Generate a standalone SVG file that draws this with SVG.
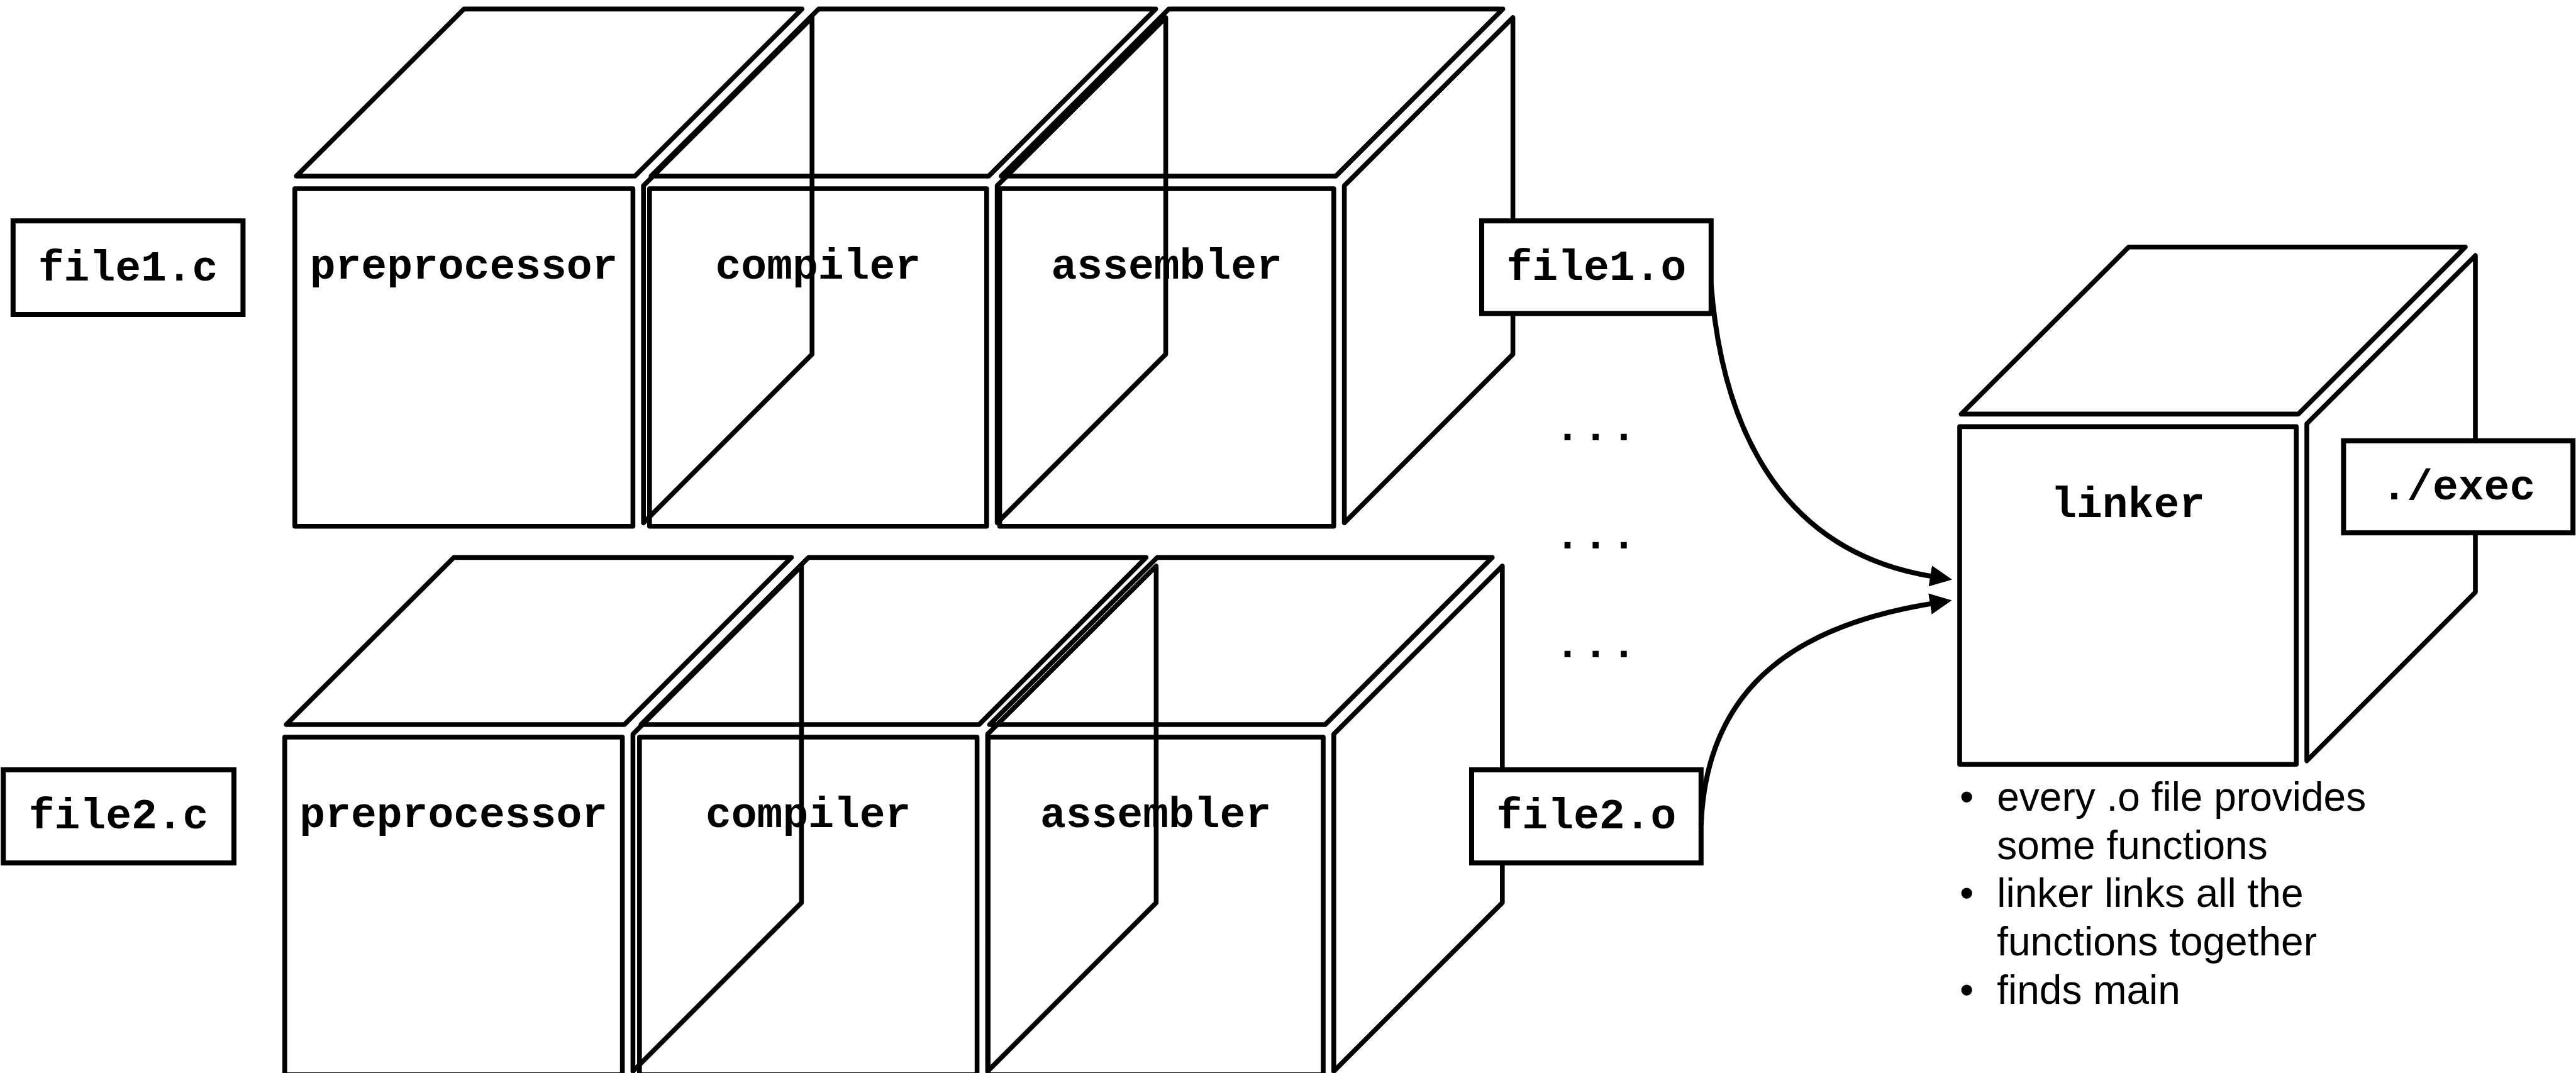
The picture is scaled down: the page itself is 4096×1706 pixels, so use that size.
<svg xmlns="http://www.w3.org/2000/svg" width="4096" height="1706" viewBox="0 0 4096 1706">
  <defs>
    <style>
      .edge { fill: none; stroke: #000; stroke-width: 9.5; stroke-linejoin: round; stroke-linecap: round; }
      .box { fill: #fff; stroke: #000; stroke-width: 10; stroke-linejoin: miter; }
      .link { fill: none; stroke: #000; stroke-width: 10; }
      .code { font-family: "Liberation Mono", "Courier New", monospace; font-weight: bold; font-size: 85px; fill: #000; text-anchor: middle; }
      .dots { font-family: "Liberation Mono", "Courier New", monospace; font-weight: bold; font-size: 85px; letter-spacing: 5px; fill: #000; }
      .note { font-family: "Liberation Sans", Arial, Helvetica, sans-serif; font-size: 80px; fill: #000; }
    </style>
    <marker id="arrow" markerUnits="userSpaceOnUse" viewBox="0 0 44 42" markerWidth="44" markerHeight="42" refX="4" refY="21" orient="auto">
      <path d="M0,0 L44,21 L0,42 Z" fill="#000"/>
    </marker>
  </defs>

  <rect width="4096" height="1706" fill="#fff"/>

  <!-- drawn in 5120-wide units, scaled down to the canvas -->
  <g transform="scale(0.8)">

    <!-- ===== row 1 ===== -->
    <g id="preprocessor-1">
      <path class="edge" d="M589,350 L922,18 L1594,18 L1262,350 Z"/>
      <rect class="edge" x="586" y="375" width="672" height="671"/>
      <path class="edge" d="M1279,369 L1614,35 L1614,704 L1279,1039 Z"/>
    </g>
    <g id="compiler-1">
      <path class="edge" d="M1294,350 L1627,18 L2297,18 L1965,350 Z"/>
      <rect class="edge" x="1291" y="375" width="670" height="671"/>
      <path class="edge" d="M1982,369 L2317,35 L2317,704 L1982,1039 Z"/>
    </g>
    <g id="assembler-1">
      <path class="edge" d="M1990,350 L2323,18 L2987,18 L2655,350 Z"/>
      <rect class="edge" x="1987" y="375" width="664" height="671"/>
      <path class="edge" d="M2672,369 L3007,35 L3007,704 L2672,1039 Z"/>
    </g>

    <!-- ===== row 2 ===== -->
    <g id="preprocessor-2">
      <path class="edge" d="M569,1440 L902,1108 L1573,1108 L1241,1440 Z"/>
      <rect class="edge" x="566" y="1465" width="671" height="671"/>
      <path class="edge" d="M1258,1459 L1593,1125 L1593,1794 L1258,2129 Z"/>
    </g>
    <g id="compiler-2">
      <path class="edge" d="M1274,1440 L1607,1108 L2278,1108 L1946,1440 Z"/>
      <rect class="edge" x="1271" y="1465" width="671" height="671"/>
      <path class="edge" d="M1963,1459 L2298,1125 L2298,1794 L1963,2129 Z"/>
    </g>
    <g id="assembler-2">
      <path class="edge" d="M1967,1440 L2300,1108 L2966,1108 L2634,1440 Z"/>
      <rect class="edge" x="1964" y="1465" width="666" height="671"/>
      <path class="edge" d="M2651,1459 L2986,1125 L2986,1794 L2651,2129 Z"/>
    </g>

    <!-- ===== linker ===== -->
    <g id="linker">
      <path class="edge" d="M3898,823 L4231,491 L4900,491 L4568,823 Z"/>
      <rect class="edge" x="3895" y="848" width="669" height="671"/>
      <path class="edge" d="M4585,842 L4920,508 L4920,1177 L4585,1512 Z"/>
    </g>

    <!-- ===== file boxes ===== -->
    <g id="file1-c"><rect class="box" x="26" y="439" width="457" height="186"/></g>
    <g id="file1-o"><rect class="box" x="2945" y="439" width="456" height="184"/></g>
    <g id="file2-c"><rect class="box" x="6.5" y="1530" width="458.5" height="185"/></g>
    <g id="file2-o"><rect class="box" x="2925" y="1530" width="456" height="185"/></g>
    <g id="exec"><rect class="box" x="4658" y="876" width="456" height="183"/></g>

    <!-- ===== connectors ===== -->
    <g id="connectors">
      <path class="link" d="M3401,565 C3425,880 3560,1100 3840.5,1145.5" marker-end="url(#arrow)"/>
      <path class="link" d="M3381,1640 C3392,1350 3590,1240 3840,1199.5" marker-end="url(#arrow)"/>
    </g>

    <!-- ===== labels ===== -->
    <g id="labels">
      <text class="code" x="922" y="554">preprocessor</text>
      <text class="code" x="1626" y="554">compiler</text>
      <text class="code" x="2319" y="554">assembler</text>
      <text class="code" x="901.5" y="1644">preprocessor</text>
      <text class="code" x="1606.5" y="1644">compiler</text>
      <text class="code" x="2297" y="1644">assembler</text>
      <text class="code" x="254.5" y="557.5">file1.c</text>
      <text class="code" x="235.7" y="1646">file2.c</text>
      <text class="code" x="3173" y="556">file1.o</text>
      <text class="code" x="3153" y="1646">file2.o</text>
      <text class="code" x="4229.5" y="1028">linker</text>
      <text class="code" x="4886" y="993">./exec</text>
    </g>

    <g id="ellipses">
      <text class="dots" x="3090" y="874.5">...</text>
      <text class="dots" x="3090" y="1090.5">...</text>
      <text class="dots" x="3090" y="1306.5">...</text>
    </g>

    <g id="notes">
      <text class="note" x="3909" y="1611" text-anchor="middle">•</text>
      <text class="note" x="3909" y="1803" text-anchor="middle">•</text>
      <text class="note" x="3909" y="1995" text-anchor="middle">•</text>
      <text class="note" x="3969" y="1611">every .o file provides</text>
      <text class="note" x="3969" y="1707">some functions</text>
      <text class="note" x="3969" y="1803">linker links all the</text>
      <text class="note" x="3969" y="1899">functions together</text>
      <text class="note" x="3969" y="1995">finds main</text>
    </g>
  </g>
</svg>
